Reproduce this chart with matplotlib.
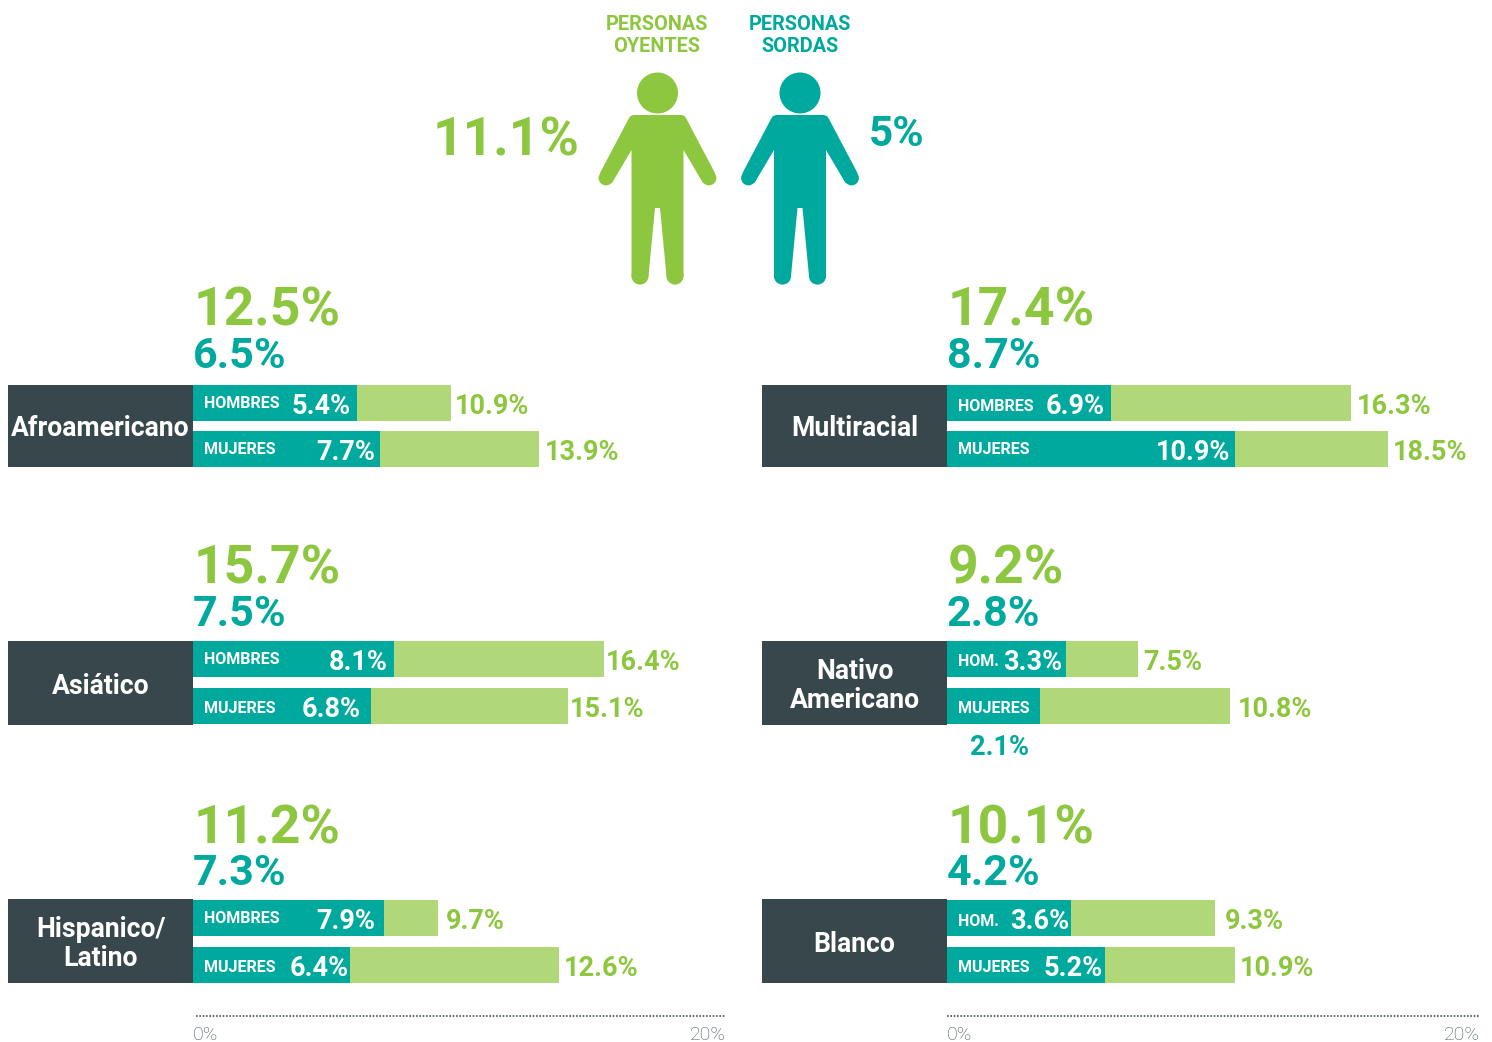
import matplotlib
matplotlib.use('Agg')
import matplotlib.pyplot as plt
from matplotlib.patches import Circle, Polygon, Rectangle

plt.rcParams['font.family'] = ['Roboto', 'DejaVu Sans']

GREEN = '#8DC73F'
LIGHT = '#B0D778'
TEAL = '#00A99D'
DARK = '#37474B'
GREY = '#46565C'

# left column first, then right column
names = ['Afroamericano', 'Asiático', 'Hispanico/\nLatino',
         'Multiracial', 'Nativo\nAmericano', 'Blanco']
hearing_total = ['12.5%', '15.7%', '11.2%', '17.4%', '9.2%', '10.1%']
deaf_total = ['6.5%', '7.5%', '7.3%', '8.7%', '2.8%', '4.2%']

men_tag = ['HOMBRES', 'HOMBRES', 'HOMBRES', 'HOMBRES', 'HOM.', 'HOM.']
women_tag = ['MUJERES'] * 6

men_deaf_label = ['5.4%', '8.1%', '7.9%', '6.9%', '3.3%', '3.6%']
women_deaf_label = ['7.7%', '6.8%', '6.4%', '10.9%', '2.1%', '5.2%']
men_hearing_label = ['10.9%', '16.4%', '9.7%', '16.3%', '7.5%', '9.3%']
women_hearing_label = ['13.9%', '15.1%', '12.6%', '18.5%', '10.8%', '10.9%']

# bar lengths as read against the 0-20% axis (the drawn bars differ from their labels)
men_deaf = [6.15, 7.54, 7.17, 6.15, 4.47, 4.65]
women_deaf = [7.02, 6.68, 5.89, 10.81, 3.49, 5.93]
men_hearing = [9.68, 15.42, 9.19, 15.16, 7.17, 10.06]
women_hearing = [12.98, 14.07, 13.73, 16.55, 10.62, 10.81]

overall_hearing = '11.1%'
overall_deaf = '5%'
axis_labels = ['0%', '20%']

# layout, in pixels of the 1492x1042 picture
W, H = 1492, 1042
bar_tops = [385, 641, 900, 385, 641, 900]
women_tops = [431, 688, 947, 431, 688, 947]
box_tops = [385, 641, 899, 385, 641, 899]
box_bottoms = [467, 725, 983, 467, 725, 983]
total_big_base = [326, 583, 843, 326, 583, 843]
total_small_base = [368, 626, 885, 368, 626, 885]
men_tag_base = [408, 664, 923, 411, 666, 926]
women_tag_base = [454, 713, 972, 454, 713, 972]
men_value_base = [414, 670, 929, 414, 670, 929]
women_value_base = [460, 717, 976, 460, 717, 976]
men_in_pad = [-6, -6, -9, -6, -4, -2]
women_in_pad = [-5, -10, -1, -5, 0, -2]
men_out_pad = [4, 2, 8, 6, 5, 10]
women_out_pad = [6, 2, 5, 5, 8, 5]
BAR_H = 36

fig = plt.figure(figsize=(W / 100, H / 100), dpi=100)

page = fig.add_axes((0, 0, 1, 1), zorder=3)
page.set_xlim(0, W)
page.set_ylim(H, 0)
page.axis('off')


def panel(left):
    ax = fig.add_axes((left / W, 0, 533 / W, 1), zorder=1)
    ax.set_xlim(0, 20)
    ax.set_ylim(H, 0)
    ax.axis('off')
    return ax


def person(cx, color):
    half = [(0, 115), (24, 115), (27, 116), (29, 119), (57.5, 173), (45.5, 183),
            (26, 150), (26, 276), (9, 276), (2.5, 208), (0, 208)]
    pts = [(cx + x, y) for x, y in half] + [(cx - x, y) for x, y in reversed(half)]
    page.add_patch(Polygon(pts, closed=True, fc=color, ec='none'))
    page.add_patch(Circle((cx, 93), 20.5, fc=color, ec='none'))
    for s in (-1, 1):
        page.add_patch(Circle((cx + s * 51.5, 178), 7.4, fc=color, ec='none'))
        page.add_patch(Circle((cx + s * 17.5, 276), 8.6, fc=color, ec='none'))


person(657.5, GREEN)
person(800, TEAL)

page.text(657, 25, 'PERSONAS', color=GREEN, fontsize=14.3, fontweight='bold', ha='center', va='center')
page.text(657, 47, 'OYENTES', color=GREEN, fontsize=14.3, fontweight='bold', ha='center', va='center')
page.text(800, 25, 'PERSONAS', color=TEAL, fontsize=14.3, fontweight='bold', ha='center', va='center')
page.text(800, 47, 'SORDAS', color=TEAL, fontsize=14.3, fontweight='bold', ha='center', va='center')
page.text(579.5, 155, overall_hearing, color=GREEN, fontsize=38.5, fontweight='bold', ha='right', va='baseline')
page.text(869, 146, overall_deaf, color=TEAL, fontsize=30.5, fontweight='bold', ha='left', va='baseline')

left_ax = panel(193)
right_ax = panel(947)

for i, name in enumerate(names):
    ax = left_ax if i < 3 else right_ax
    base = 193 if i < 3 else 947

    page.add_patch(Rectangle((base - 185, box_tops[i]), 185, box_bottoms[i] - box_tops[i], fc=DARK, ec='none'))
    page.text(base - 92.5, (box_tops[i] + box_bottoms[i]) / 2 + 3, name, color='white', fontsize=19.2,
              fontweight='bold', ha='center', va='center', linespacing=1.12, zorder=5)

    page.text(base + 1, total_big_base[i], hearing_total[i], color=GREEN, fontsize=38.5,
              fontweight='bold', va='baseline')
    page.text(base + 0, total_small_base[i], deaf_total[i], color=TEAL, fontsize=31,
              fontweight='bold', va='baseline')

    ax.barh(bar_tops[i], men_hearing[i], height=BAR_H, align='edge', color=LIGHT)
    ax.barh(bar_tops[i], men_deaf[i], height=BAR_H, align='edge', color=TEAL)
    ax.barh(women_tops[i], women_hearing[i], height=BAR_H, align='edge', color=LIGHT)
    ax.barh(women_tops[i], women_deaf[i], height=BAR_H, align='edge', color=TEAL)

    page.text(base + 11, men_tag_base[i], men_tag[i], color='white', fontsize=11.5, fontweight='bold', va='baseline')
    page.text(base + 11, women_tag_base[i], women_tag[i], color='white', fontsize=11.5, fontweight='bold', va='baseline')

    ax.annotate(men_deaf_label[i], (men_deaf[i], men_value_base[i]), xytext=(men_in_pad[i], 0),
                textcoords='offset pixels', color='white', fontsize=19.5, fontweight='bold',
                ha='right', va='baseline', annotation_clip=False)
    ax.annotate(men_hearing_label[i], (men_hearing[i], men_value_base[i]), xytext=(men_out_pad[i], 0),
                textcoords='offset pixels', color=GREEN, fontsize=19.5, fontweight='bold',
                ha='left', va='baseline', annotation_clip=False)
    ax.annotate(women_hearing_label[i], (women_hearing[i], women_value_base[i]), xytext=(women_out_pad[i], 0),
                textcoords='offset pixels', color=GREEN, fontsize=19.5, fontweight='bold',
                ha='left', va='baseline', annotation_clip=False)

    # Nativo Americano: the bar is too short, so the value sits under it
    if women_deaf[i] < 4:
        page.text(base + 23, 755, women_deaf_label[i], color=TEAL, fontsize=19.5, fontweight='bold', va='baseline')
    else:
        ax.annotate(women_deaf_label[i], (women_deaf[i], women_value_base[i]), xytext=(women_in_pad[i], 0),
                    textcoords='offset pixels', color='white', fontsize=19.5, fontweight='bold',
                    ha='right', va='baseline', annotation_clip=False)

for ax, start in ((left_ax, 0.11), (right_ax, 0)):
    ax.hlines(1016, start, 20, color=GREY, linewidth=1.2, linestyle=(0, (1, 1)))
    ax.annotate(axis_labels[0], (0, 1040), color=GREY, fontsize=14, fontweight='light',
                ha='left', va='baseline', annotation_clip=False)
    ax.annotate(axis_labels[1], (20, 1040), color=GREY, fontsize=14, fontweight='light',
                ha='right', va='baseline', annotation_clip=False)

fig.savefig('out.png', dpi=100)
